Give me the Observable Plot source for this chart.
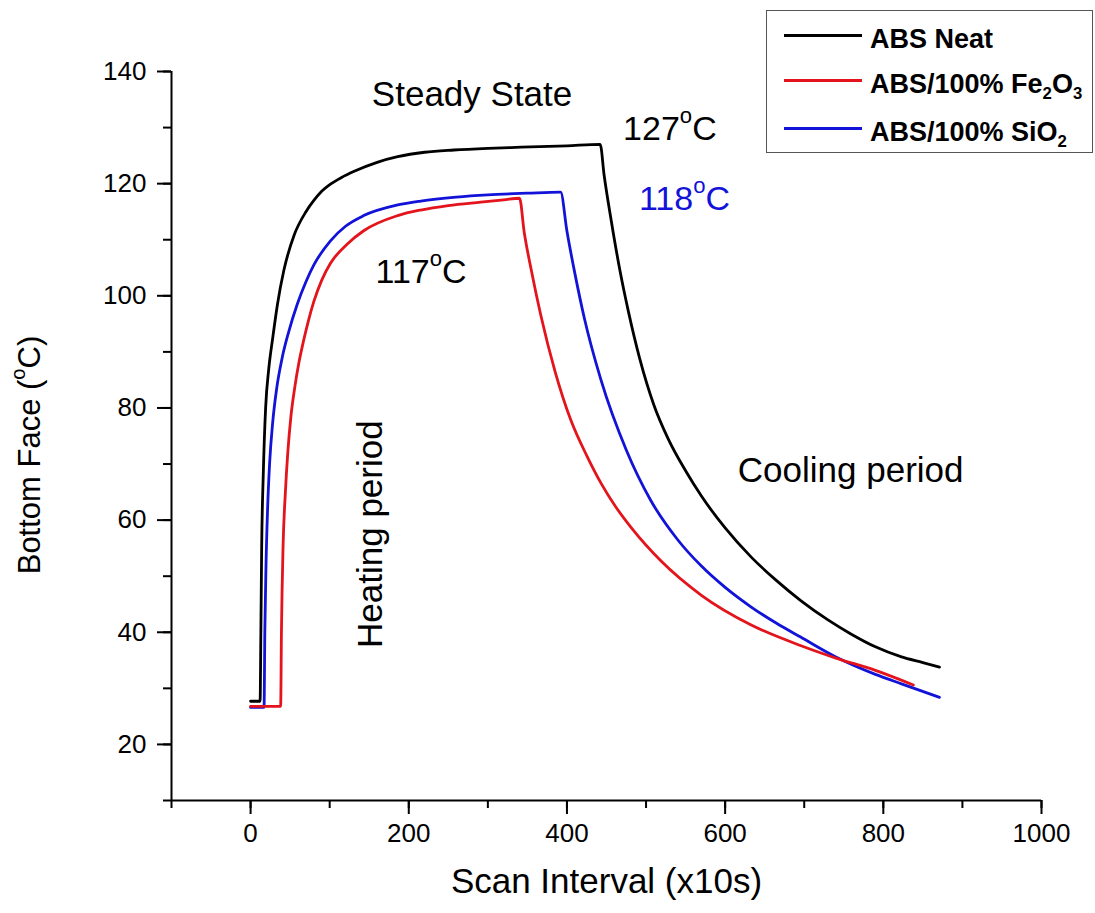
<!DOCTYPE html>
<html><head><meta charset="utf-8">
<script src="https://cdn.jsdelivr.net/npm/d3@7"></script>
<script src="https://cdn.jsdelivr.net/npm/@observablehq/plot@0.6"></script>
<style>
body{margin:0;background:#fff;font-family:"Liberation Sans",Arial,sans-serif;}
#wrap{position:relative;width:1095px;height:913px;}
#legend{position:absolute;left:766px;top:10px;width:327px;height:143px;border:1.5px solid #555;box-sizing:border-box;background:#fff;}
.row{position:absolute;left:0;height:0;}
.sw{position:absolute;left:17px;width:78px;height:3px;top:-1.5px}
.lab{position:absolute;left:103px;top:-9px;font-weight:bold;font-size:27px;white-space:nowrap;line-height:1;color:#000}
.lab sub{font-size:0.62em;vertical-align:baseline;position:relative;top:0.38em}
</style>
</head><body>
<div id="wrap"></div>
<script>
// ---- data ----
const seriesNames = ["ABS Neat", "ABS/100% Fe2O3", "ABS/100% SiO2"];
const seriesColors = ["#000000", "#e3141b", "#1212d8"];

const scanNeat = [0, 10, 12, 13, 14, 16, 19, 23, 28, 34, 42, 55, 70, 80, 89, 101, 115, 131, 160, 186, 220, 257, 300, 342, 400, 442, 447, 456, 467, 478, 492, 510, 528, 550, 570, 600, 633, 665, 696, 730, 759, 790, 823, 850, 871];
const tempNeat = [27.7, 27.7, 27.7, 40, 55, 68, 80, 87, 92.5, 98.5, 104.5, 110.8, 115, 117, 118.5, 119.9, 121.1, 122.2, 123.8, 124.8, 125.6, 126, 126.3, 126.5, 126.75, 127, 121.5, 113.4, 104.5, 97, 88.8, 80.5, 74.5, 68.8, 64.3, 58.6, 53.4, 49.2, 45.6, 42.2, 39.7, 37.4, 35.6, 34.6, 33.8];

const scanFe2O3 = [0, 38, 39, 41, 44, 47, 51, 56, 61, 67, 73, 80, 90, 101, 122, 143, 186, 215, 250, 291, 320, 340, 346, 355, 367, 385, 405, 425, 443, 462, 481, 519, 570, 633, 696, 740, 790, 838];
const tempFe2O3 = [26.8, 26.8, 40, 55, 65, 72, 78.5, 83.8, 88, 92, 95.5, 99, 102.8, 105.8, 109.2, 111.6, 114.3, 115.3, 116.1, 116.7, 117.1, 117.4, 111.3, 104.5, 96.5, 86.5, 77.8, 71.5, 66.6, 62.3, 58.7, 52.7, 46.6, 41.3, 37.6, 35.4, 33.2, 30.6];

const scanSiO2 = [0, 17, 18, 19.5, 21.5, 24, 28, 33, 40, 48, 59, 70, 80, 101, 120, 143, 186, 215, 260, 300, 350, 392, 400, 410, 422, 443, 475, 506, 540, 570, 600, 633, 665, 696, 740, 790, 823, 871];
const tempSiO2 = [26.6, 26.6, 40, 52, 62, 70, 77.5, 83.5, 89, 93.5, 98.5, 102.5, 105.5, 109.8, 112.4, 114.3, 116.2, 116.9, 117.6, 118, 118.3, 118.5, 111.5, 104, 96, 85, 72.5, 63.5, 56.5, 51.8, 48, 44.5, 41.6, 39.1, 35.6, 32.5, 30.8, 28.4];

const xMajorTicks = [0, 200, 400, 600, 800, 1000];
const xMinorTicks = [-100, 0, 100, 200, 300, 400, 500, 600, 700, 800, 900, 1000];
const yMajorTicks = [20, 40, 60, 80, 100, 120, 140];
const yMinorTicks = [10, 20, 30, 40, 50, 60, 70, 80, 90, 100, 110, 120, 130, 140];

// annotations: centered
const centerNotes = ["Steady State"];
const centerNoteX = [280];
const centerNoteY = [135.8];
// annotations: left-aligned
const startNotes = ["127°C", "118°C", "117°C", "Cooling period"];
const startNoteX = [471, 491, 158, 616];
const startNoteY = [129.8, 117.2, 104.2, 68.8];
const startNoteColor = ["#000", "#1212d8", "#000", "#000"];
const startNoteSize = [34, 34, 34, 35];

const xTitle = "Scan Interval (x10s)";
const yTitle = "Bottom Face (°C)";
const heatText = "Heating period";
const heatX = 152, heatY = 57.5;

// ---- build rows ----
const toRows = (xs, ys) => xs.map((x, i) => ({x, y: ys[i]}));
const rowsNeat = toRows(scanNeat, tempNeat);
const rowsFe = toRows(scanFe2O3, tempFe2O3);
const rowsSi = toRows(scanSiO2, tempSiO2);
const cNotes = centerNotes.map((t, i) => ({t, x: centerNoteX[i], y: centerNoteY[i]}));
const sNotes = startNotes.map((t, i) => ({t, x: startNoteX[i], y: startNoteY[i], c: startNoteColor[i], s: startNoteSize[i]}));

const font = '"Liberation Sans", Arial, sans-serif';
const lineOpts = {x: "x", y: "y", strokeWidth: 2.8, curve: "monotone-x"};
const fmt = d3.format("d");

const chart = Plot.plot({
  width: 1095, height: 913,
  marginLeft: 171, marginRight: 54, marginTop: 71, marginBottom: 113,
  style: {fontFamily: font, color: "#000", background: "#fff", overflow: "visible"},
  x: {domain: [-100, 1000]},
  y: {domain: [10, 140]},
  marks: [
    Plot.axisX({ticks: xMinorTicks, tickSize: 8, tickFormat: () => "", label: null, strokeWidth: 2}),
    Plot.axisX({ticks: xMajorTicks, tickSize: 14, tickPadding: 9, fontSize: 26, tickFormat: fmt, label: null, strokeWidth: 2}),
    Plot.axisY({ticks: yMinorTicks, tickSize: 8, tickFormat: () => "", label: null, strokeWidth: 2}),
    Plot.axisY({ticks: yMajorTicks, tickSize: 14, tickPadding: 11, fontSize: 26, tickFormat: fmt, label: null, strokeWidth: 2}),
    Plot.ruleY([10], {stroke: "#000", strokeWidth: 2}),
    Plot.ruleX([-100], {stroke: "#000", strokeWidth: 2}),
    Plot.line(rowsNeat, {...lineOpts, stroke: seriesColors[0]}),
    Plot.line(rowsSi, {...lineOpts, stroke: seriesColors[2]}),
    Plot.line(rowsFe, {...lineOpts, stroke: seriesColors[1]}),
    Plot.text(cNotes, {x: "x", y: "y", text: "t", fill: "#000", textAnchor: "middle", lineAnchor: "middle", fontSize: 35}),
    Plot.text(sNotes, {x: "x", y: "y", text: "t", fill: "c", fontSize: "s", textAnchor: "start", lineAnchor: "middle"}),
    Plot.text([heatText], {x: () => heatX, y: () => heatY, rotate: -90, fontSize: 35, lineAnchor: "middle", textAnchor: "middle", fill: "#000"}),
    Plot.text([xTitle], {frameAnchor: "bottom", dy: 81, fontSize: 35, lineAnchor: "middle", fill: "#000"}),
    Plot.text([yTitle], {frameAnchor: "left", dx: -141, dy: 19, rotate: -90, fontSize: 31, lineAnchor: "middle", textAnchor: "middle", fill: "#000"})
  ]
});

// superscript "o" for degree signs
chart.querySelectorAll("text").forEach(t => {
  if (t.children.length === 0 && t.textContent.includes("°")) {
    const fs = parseFloat(t.getAttribute("font-size")) || parseFloat(t.parentNode.getAttribute("font-size")) || 33;
    const parts = t.textContent.split("°");
    t.textContent = "";
    const ns = "http://www.w3.org/2000/svg";
    t.appendChild(document.createTextNode(parts[0]));
    const sup = document.createElementNS(ns, "tspan");
    sup.setAttribute("font-size", (fs * 0.65) + "px");
    sup.setAttribute("dy", (-fs * 0.5) + "px");
    sup.textContent = "o";
    t.appendChild(sup);
    const rest = document.createElementNS(ns, "tspan");
    rest.setAttribute("dy", (fs * 0.5) + "px");
    rest.textContent = parts[1];
    t.appendChild(rest);
  }
});

const wrap = document.getElementById("wrap");
wrap.appendChild(chart);

// legend
const legendLabels = ["ABS Neat", "ABS/100% Fe<sub>2</sub>O<sub>3</sub>", "ABS/100% SiO<sub>2</sub>"];
const legendRowY = [24, 69, 117];
const legend = document.createElement("div");
legend.id = "legend";
legendLabels.forEach((lab, i) => {
  const row = document.createElement("div");
  row.className = "row";
  row.style.top = legendRowY[i] + "px";
  row.innerHTML = `<div class="sw" style="background:${seriesColors[i]}"></div><div class="lab">${lab}</div>`;
  legend.appendChild(row);
});
wrap.appendChild(legend);
</script>
</body></html>
